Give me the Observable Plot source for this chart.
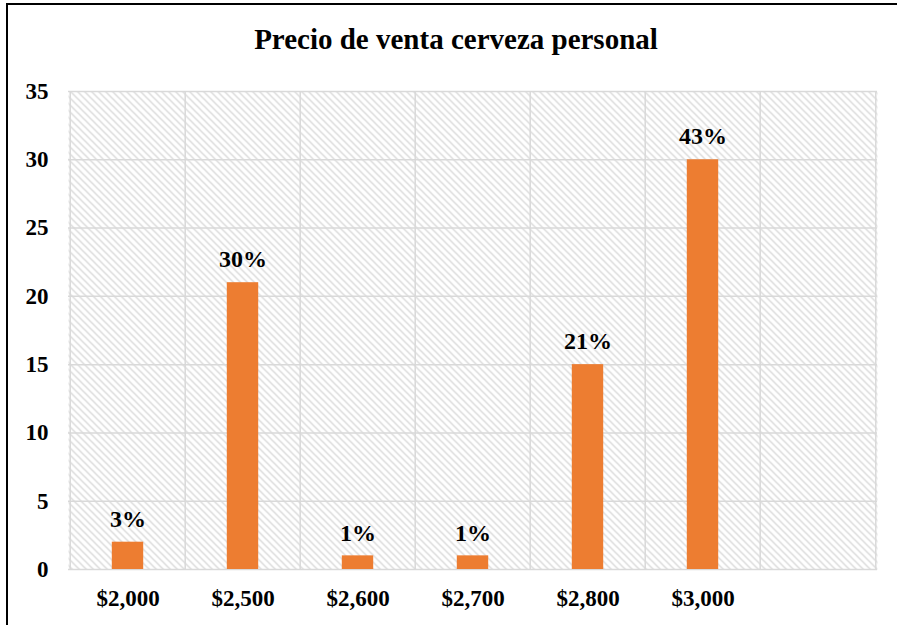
<!DOCTYPE html>
<html>
<head>
<meta charset="utf-8">
<script src="https://cdn.jsdelivr.net/npm/d3@7"></script>
<script src="https://cdn.jsdelivr.net/npm/@observablehq/plot@0.6"></script>
<style>
  html, body { margin: 0; padding: 0; background: #fff; }
  #wrap { position: relative; width: 897px; height: 625px; overflow: hidden; }
  #frame { position: absolute; left: 6px; top: 3px; width: 1000px; height: 1000px; border: 2px solid #000; box-sizing: border-box; pointer-events: none; }
  #title { position: absolute; left: 0; top: 23px; width: 912px; text-align: center;
           font-family: "Liberation Serif", "Times New Roman", serif; font-weight: bold; font-size: 29px; color: #000; }
  svg { display: block; }
  svg text { font-family: "Liberation Serif", "Times New Roman", serif !important; font-weight: bold; }
</style>
</head>
<body>
<div id="wrap">
  <div id="title">Precio de venta cerveza personal</div>
  <div id="chart"></div>
  <div id="frame"></div>
</div>
<script>
const categories = ["$2,000", "$2,500", "$2,600", "$2,700", "$2,800", "$3,000", ""];
const counts = [2, 21, 1, 1, 15, 30, null];
const percentLabels = ["3%", "30%", "1%", "1%", "21%", "43%", ""];
const yTicks = [0, 5, 10, 15, 20, 25, 30, 35];

const data = categories.map((c, i) => ({cat: c, key: "k" + i, value: counts[i], label: percentLabels[i]}));
const keys = data.map(d => d.key);
const bars = data.filter(d => d.value != null);

const font = "Liberation Serif";
const W = 897, ML = 68, MR = 20;
const half = (W - ML - MR) / keys.length / 2;

const chart = Plot.plot({
  width: W,
  height: 625,
  marginLeft: ML,
  marginRight: MR,
  marginTop: 91,
  marginBottom: 56,
  style: {fontFamily: font, fontWeight: "bold", fontSize: "23px", color: "#000", background: "transparent"},
  x: {domain: keys, padding: 0, label: null},
  y: {domain: [0, 35], label: null},
  marks: [
    Plot.frame({fill: "url(#hatch)", stroke: null}),
    Plot.gridY(yTicks, {stroke: "#d9d9d9", strokeOpacity: 1, strokeWidth: 1.5}),
    Plot.ruleX(keys, {x: d => d, stroke: "#d9d9d9", strokeOpacity: 1, strokeWidth: 1.5, dx: -half}),
    Plot.ruleX([keys[keys.length - 1]], {x: d => d, stroke: "#d9d9d9", strokeOpacity: 1, strokeWidth: 1.5, dx: half}),
    Plot.barY(bars, {x: "key", y: "value", fill: "#ed7d31", insetLeft: 41.8, insetRight: 41.8}),
    Plot.text(bars, {x: "key", y: "value", text: "label", dy: -23, fontSize: 24, fontWeight: "bold", fontFamily: font, fill: "#000"}),
    Plot.axisY(yTicks, {tickSize: 0, tickPadding: 20, fontSize: 23, fontWeight: "bold", fontFamily: font, fill: "#000"}),
    Plot.axisX(keys, {tickSize: 0, tickPadding: 20, fontSize: 23, fontWeight: "bold", fontFamily: font, fill: "#000",
      tickFormat: k => categories[keys.indexOf(k)]})
  ]
});

document.getElementById("chart").appendChild(chart);

// hatch pattern definition used by the frame fill
const svg = d3.select(chart);
const defs = svg.insert("defs", ":first-child");
const pat = defs.append("pattern")
  .attr("id", "hatch")
  .attr("patternUnits", "userSpaceOnUse")
  .attr("width", 7).attr("height", 7);
pat.append("rect").attr("width", 7).attr("height", 7).attr("fill", "#fff");
pat.append("path")
  .attr("d", "M-2,-2 L9,9 M-2,5 L2,9 M5,-2 L9,2")
  .attr("stroke", "#d0d0d0").attr("stroke-width", 1.2);
</script>
</body>
</html>
